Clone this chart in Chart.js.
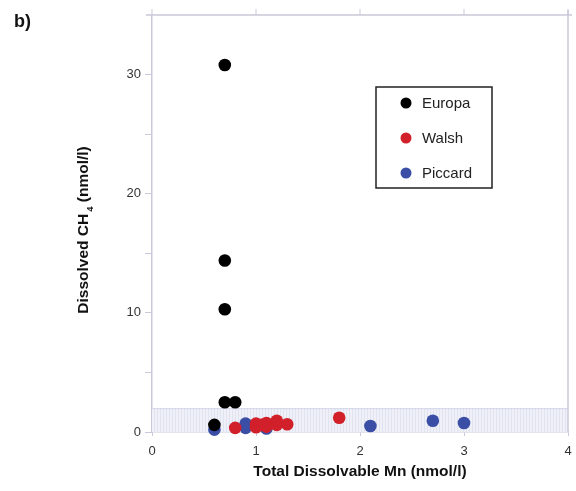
<!DOCTYPE html>
<html>
<head>
<meta charset="utf-8">
<script src="https://cdn.jsdelivr.net/npm/chart.js@4"></script>
<style>
html,body{margin:0;padding:0;background:#fff;}
#wrap{width:576px;height:491px;position:relative;}
</style>
</head>
<body>
<div id="wrap"><canvas id="c" width="576" height="491"></canvas></div>
<script>
const seriesNames = ['Europa', 'Walsh', 'Piccard'];
const seriesColors = ['#000000', '#d2202a', '#3a4ea6'];
const europaMn  = [0.7, 0.7, 0.7, 0.7, 0.8, 0.6];
const europaCH4 = [30.8, 14.4, 10.3, 2.5, 2.5, 0.6];
const walshMn   = [0.8, 1.0, 1.0, 1.05, 1.1, 1.1, 1.2, 1.2, 1.3, 1.8];
const walshCH4  = [0.35, 0.7, 0.4, 0.6, 0.75, 0.45, 0.95, 0.6, 0.65, 1.2];
const piccardMn  = [0.6, 0.9, 0.9, 1.1, 2.1, 2.7, 3.0];
const piccardCH4 = [0.2, 0.7, 0.35, 0.3, 0.5, 0.95, 0.75];
const xTicks = [0, 1, 2, 3, 4];
const yMajorTicks = [0, 10, 20, 30];
const bandRange = [0, 2];
const xTitle = 'Total Dissolvable Mn (nmol/l)';
const yTitleParts = ['Dissolved CH', '4', ' (nmol/l)'];
const panelLabel = 'b)';

function pts(xs, ys){ return xs.map((x,i)=>({x:x, y:ys[i]})); }

const axisColor = '#c9c9da';
const fontFam = '"Liberation Sans", Arial, Helvetica, sans-serif';

const decor = {
  id:'decor',
  beforeDatasetsDraw(chart){
    const ctx = chart.ctx, a = chart.chartArea, ys = chart.scales.y;
    const yTop = ys.getPixelForValue(bandRange[1]), yBot = ys.getPixelForValue(bandRange[0]);
    ctx.save();
    ctx.fillStyle = '#f0f1f8';
    ctx.fillRect(a.left, yTop, a.right - a.left, yBot - yTop);
    ctx.strokeStyle = 'rgba(205,210,230,0.45)';
    ctx.lineWidth = 1;
    for (let x = a.left + 2; x < a.right; x += 3) {
      ctx.beginPath(); ctx.moveTo(x + 0.5, yTop); ctx.lineTo(x + 0.5, yBot); ctx.stroke();
    }
    ctx.strokeStyle = '#d3d6e8';
    ctx.beginPath(); ctx.moveTo(a.left, yTop + 0.5); ctx.lineTo(a.right, yTop + 0.5); ctx.stroke();
    ctx.restore();
  },
  afterDraw(chart){
    const ctx = chart.ctx, a = chart.chartArea, xs = chart.scales.x;
    ctx.save();
    ctx.strokeStyle = axisColor; ctx.lineWidth = 1.5;
    ctx.beginPath();
    ctx.moveTo(a.left - 6, a.top); ctx.lineTo(a.right + 4, a.top);
    ctx.moveTo(a.right, a.top - 5); ctx.lineTo(a.right, a.bottom);
    ctx.stroke();
    ctx.lineWidth = 1;
    xTicks.forEach(v => {
      const px = xs.getPixelForValue(v);
      ctx.beginPath(); ctx.moveTo(px, a.top); ctx.lineTo(px, a.top - 6); ctx.stroke();
    });
    ctx.fillStyle = '#111';
    ctx.font = 'bold 18px ' + fontFam;
    ctx.textBaseline = 'alphabetic';
    ctx.textAlign = 'left';
    ctx.fillText(panelLabel, 14, 27);
    const mainFont = 'bold 15.5px ' + fontFam;
    const subFont = 'bold 9.5px ' + fontFam;
    ctx.font = mainFont;
    const w0 = ctx.measureText(yTitleParts[0]).width;
    const w2 = ctx.measureText(yTitleParts[2]).width;
    ctx.font = subFont;
    const w1 = ctx.measureText(yTitleParts[1]).width;
    const total = w0 + w1 + w2 + 2;
    ctx.translate(88, 230);
    ctx.rotate(-Math.PI / 2);
    let x0 = -total / 2;
    ctx.fillStyle = '#111';
    ctx.font = mainFont;
    ctx.fillText(yTitleParts[0], x0, 0);
    ctx.font = subFont;
    ctx.fillText(yTitleParts[1], x0 + w0 + 2, 5);
    ctx.font = mainFont;
    ctx.fillText(yTitleParts[2], x0 + w0 + w1 + 2, 0);
    ctx.restore();
    ctx.save();
    const bx = 376, by = 87, bw = 116, bh = 101;
    ctx.strokeStyle = '#222'; ctx.lineWidth = 1.5;
    ctx.strokeRect(bx, by, bw, bh);
    ctx.font = '15px ' + fontFam;
    ctx.textBaseline = 'middle';
    chart.data.datasets.forEach((ds, i) => {
      const cy = by + 16 + i * 35;
      ctx.fillStyle = ds.backgroundColor;
      ctx.beginPath(); ctx.arc(bx + 30, cy, 5.5, 0, Math.PI * 2); ctx.fill();
      ctx.fillStyle = '#222';
      ctx.fillText(ds.label, bx + 46, cy + 1);
    });
    ctx.restore();
  }
};

new Chart(document.getElementById('c'), {
  type: 'scatter',
  data: {
    datasets: [
      {label: seriesNames[0], data: pts(europaMn, europaCH4), backgroundColor: seriesColors[0], borderColor: seriesColors[0], order: 0, clip: false},
      {label: seriesNames[1], data: pts(walshMn, walshCH4), backgroundColor: seriesColors[1], borderColor: seriesColors[1], order: 1, clip: false},
      {label: seriesNames[2], data: pts(piccardMn, piccardCH4), backgroundColor: seriesColors[2], borderColor: seriesColors[2], order: 2, clip: false}
    ]
  },
  options: {
    responsive: false,
    animation: false,
    elements: { point: { radius: 6.3, borderWidth: 0, hoverRadius: 6.3 } },
    layout: { padding: { left: 0, top: 15, right: 8, bottom: 0 } },
    plugins: { legend: { display: false }, tooltip: { enabled: false } },
    scales: {
      x: {
        type: 'linear', min: 0, max: 4,
        afterBuildTicks: s => { s.ticks = xTicks.map(v => ({value: v})); },
        afterFit: s => { s.height = 59; s.paddingLeft = 0; s.paddingRight = 0; },
        grid: { drawOnChartArea: false, drawTicks: true, tickLength: 4, color: axisColor },
        border: { color: axisColor, width: 1.5 },
        ticks: { color: '#333', font: { family: fontFam, size: 13 }, padding: 8 },
        title: { display: true, text: xTitle, color: '#111', font: { family: fontFam, size: 15.5, weight: 'bold' }, padding: { top: 2, bottom: 10 } }
      },
      y: {
        type: 'linear', min: 0, max: 35,
        afterBuildTicks: s => { const t = []; for (let v = 0; v <= 30; v += 5) t.push({value: v}); s.ticks = t; },
        afterFit: s => { s.width = 152; s.paddingTop = 0; s.paddingBottom = 0; },
        grid: { drawOnChartArea: false, drawTicks: true, tickLength: 7, color: axisColor },
        border: { color: axisColor, width: 1.5 },
        ticks: { color: '#333', font: { family: fontFam, size: 13 }, padding: 4,
          callback: v => yMajorTicks.includes(v) ? String(v) : '' }
      }
    }
  },
  plugins: [decor]
});
</script>
</body>
</html>
